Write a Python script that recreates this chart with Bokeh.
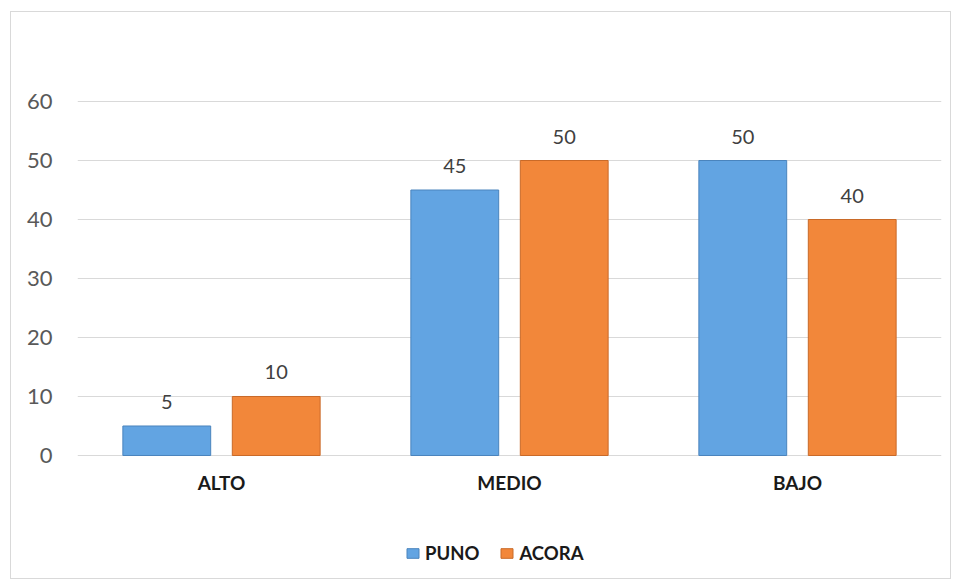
from bokeh.plotting import figure
from bokeh.models import ColumnDataSource, FactorRange, Range1d, Legend, LegendItem, LabelSet
from bokeh.core.properties import value
from bokeh.transform import dodge
from bokeh.embed import file_html
from bokeh.resources import INLINE

categories = ["ALTO", "MEDIO", "BAJO"]
puno = [5, 45, 50]
acora = [10, 50, 40]
y_ticks = [0, 10, 20, 30, 40, 50, 60]

src = ColumnDataSource(dict(cat=categories, puno=puno, acora=acora,
                            base=[0] * len(categories),
                            puno_lbl=[str(v) for v in puno],
                            acora_lbl=[str(v) for v in acora]))

FONT = "Lato"

p = figure(x_range=FactorRange(factors=categories, range_padding=0),
           y_range=Range1d(-20.85, 74.75),
           width=941, height=568, output_backend="svg", toolbar_location=None,
           x_axis_location=None,
           min_border_left=66, min_border_right=11, min_border_top=2, min_border_bottom=2)
p.styles = {"border": "1px solid #d9d9d9", "margin-left": "10px", "margin-top": "11px"}
p.outline_line_color = None
p.background_fill_color = "white"
p.border_fill_color = "white"

blue = "#62a4e2"
orange = "#f2873a"
rb = p.vbar(x=dodge("cat", -0.19, range=p.x_range), top="puno", width=0.305, source=src,
            fill_color=blue, line_color="#4a84bd", line_width=1)
ro = p.vbar(x=dodge("cat", 0.19, range=p.x_range), top="acora", width=0.305, source=src,
            fill_color=orange, line_color="#c96a28", line_width=1)

for col, off in (("puno", -0.19), ("acora", 0.19)):
    p.add_layout(LabelSet(x=dodge("cat", off, range=p.x_range), y=col, text=col + "_lbl",
                          source=src, text_align="center", text_baseline="alphabetic",
                          y_offset=17, text_font=value(FONT), text_font_size="20px",
                          text_color="#404040"))

# category labels under the baseline
p.add_layout(LabelSet(x="cat", y="base", text="cat", source=src, text_align="center",
                      text_baseline="alphabetic", y_offset=-35, text_font=value(FONT),
                      text_font_size="19px", text_font_style="bold", text_color="#1a1a1a"))

p.yaxis.ticker = y_ticks
p.yaxis.axis_line_color = None
p.yaxis.major_tick_line_color = None
p.yaxis.minor_tick_line_color = None
p.yaxis.major_label_text_font = FONT
p.yaxis.major_label_text_font_size = "22px"
p.yaxis.major_label_text_color = "#595959"
p.yaxis.major_label_standoff = 19

p.xgrid.grid_line_color = None
p.ygrid.ticker = y_ticks
p.ygrid.grid_line_color = "#d9d9d9"
p.ygrid.grid_line_width = 1

legend = Legend(items=[LegendItem(label="PUNO", renderers=[rb]),
                       LegendItem(label="ACORA", renderers=[ro])],
                orientation="horizontal", location=(328, 14),
                label_text_font=FONT, label_text_font_size="18.5px",
                label_text_font_style="bold", label_text_color="#1a1a1a",
                glyph_width=15, glyph_height=12, label_standoff=5, spacing=20,
                border_line_color=None, background_fill_alpha=0, margin=0, padding=0)
p.add_layout(legend, "center")

open("out.html", "w").write(file_html(p, INLINE))
